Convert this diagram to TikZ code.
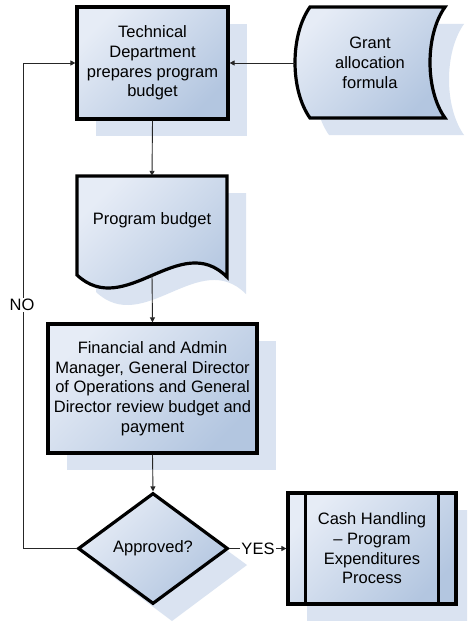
\documentclass[tikz,border=0pt]{standalone}
\usepackage{fontspec}
\setmainfont{Liberation Sans}
\usetikzlibrary{arrows.meta,shapes.geometric}
\definecolor{fillLight}{HTML}{E6ECF6}
\definecolor{fillDark}{HTML}{B3C6E0}
\definecolor{shadowBlue}{HTML}{DAE3F1}
\begin{document}
\begin{tikzpicture}[x=1pt,y=-1pt,
  font=\fontsize{16.5}{19.7}\selectfont,
  flowfill/.style={top color=fillLight, bottom color=fillDark, shading angle=45},
  flowline/.style={draw=black, line width=3.2pt, line join=miter},
  procbox/.style={rectangle, flowfill, flowline, align=center, inner sep=0pt},
  decision/.style={diamond, flowfill, flowline, align=center, inner sep=0pt},
  textbox/.style={rectangle, inner sep=0pt, align=center},
  shadowfill/.style={fill=shadowBlue, draw=none},
  conn/.style={draw=black!85, line width=0.9pt, -{Triangle[length=5pt,width=5pt]}},
  lab/.style={fill=white, inner sep=1pt}
]
% canvas
\fill[white] (0,0) rectangle (467,623);
\useasboundingbox (0,0) rectangle (467,623);
\clip (0,0) rectangle (467,623);

% drop shadows
\path[shadowfill] (96,24) rectangle (247,136);
\path[shadowfill] (329,24) -- (464,24) .. controls (444,52) and (444,107) .. (464,135)
  -- (329,135) .. controls (309,107) and (309,52) .. (329,24) -- cycle;
\path[shadowfill] (96,193) -- (246,193) -- (246,294) .. controls (199,247) and (144,337) .. (96,292) -- cycle;
\path[shadowfill] (67,341) rectangle (276,470);
\path[shadowfill] (172,510) -- (247,565) -- (172,621) -- (97,565) -- cycle;
\path[shadowfill] (307,510) rectangle (475,621);

% process: technical department
\node[procbox, minimum width=151pt, minimum height=112pt] (tech) at (152.5,63)
  {Technical\\Department\\prepares program\\budget};

% stored data: grant allocation formula
\path[flowfill, flowline] (310,7) -- (445,7) .. controls (425,35) and (425,90) .. (445,118)
  -- (310,118) .. controls (290,90) and (290,35) .. (310,7) -- cycle;
\node[textbox, minimum width=150pt, minimum height=111pt] (grant) at (370,63)
  {Grant\\allocation\\formula};

% document: program budget
\path[flowfill, flowline] (77,176) -- (227,176) -- (227,277)
  .. controls (180,230) and (125,320) .. (77,275) -- cycle;
\node[textbox, minimum width=150pt, minimum height=88pt] (budget) at (152,220) {Program budget};
\coordinate (budgetout) at (152,275);

% process: review
\node[procbox, minimum width=209pt, minimum height=129pt] (review) at (152.5,388.5)
  {Financial and Admin\\Manager, General Director\\of Operations and General\\Director review budget and\\payment};

% decision
\node[decision, minimum width=150pt, minimum height=111pt] (approved) at (153,548.5) {Approved?};

% predefined process: cash handling
\node[procbox, minimum width=168pt, minimum height=111pt] (cash) at (372,548.5)
  {Cash Handling\\– Program\\Expenditures\\Process};
\draw[flowline] ([xshift=19pt]cash.north west) -- ([xshift=19pt]cash.south west);
\draw[flowline] ([xshift=-19pt]cash.north east) -- ([xshift=-19pt]cash.south east);

% connectors
\draw[conn] (grant.west) -- (tech.east);
\draw[conn] (tech.south) -- (budget.north);
\draw[conn] (budgetout) -- (review.north);
\draw[conn] (review.south) -- (approved.north);
\draw[conn] (approved.east) -- node[lab] (yes) {YES} (cash.west);
\coordinate (noturn) at (23,548.5);
\draw[conn] (approved.west) -- (noturn) |- (tech.west);
\node[lab] (no) at (22,305) {NO};
\end{tikzpicture}
\end{document}
